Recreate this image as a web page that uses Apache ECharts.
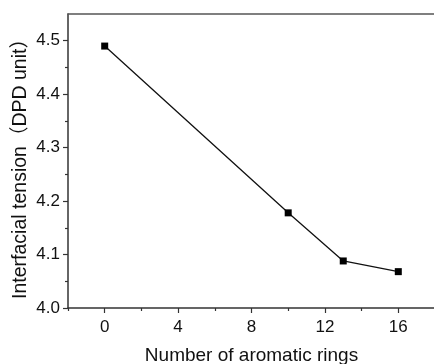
<!DOCTYPE html>
<html>
<head>
<meta charset="utf-8">
<script src="https://cdn.jsdelivr.net/npm/echarts@6/dist/echarts.min.js"></script>
<style>
  html, body { margin: 0; padding: 0; background: #fff; }
  #chart { width: 434px; height: 364px; }
</style>
</head>
<body>
<div id="chart"></div>
<script>
// data
const rings = [0, 10, 13, 16];
const tension = [4.49, 4.178, 4.088, 4.068];
const xMajor = [0, 4, 8, 12, 16];
const xMinor = [-2, 2, 6, 10, 14, 18];
const yMajor = [4.0, 4.1, 4.2, 4.3, 4.4, 4.5];
const yMinor = [4.05, 4.15, 4.25, 4.35, 4.45];

const font = "'Liberation Sans', Arial, 'Noto Sans CJK SC', sans-serif";
const lineColor = '#333';

const myChart = echarts.init(document.getElementById('chart'));

myChart.setOption({
  backgroundColor: '#fff',
  animation: false,
  grid: {
    left: 68,
    top: 14,
    right: -1,
    bottom: 56,
    containLabel: false,
    outerBoundsMode: 'none',
    show: false
  },
  xAxis: [
    {
      type: 'value',
      min: -2,
      max: 18,
      position: 'bottom',
      name: 'Number of aromatic rings',
      nameLocation: 'middle',
      nameGap: 38,
      nameTextStyle: { fontFamily: font, fontSize: 19, color: '#111' },
      axisLine: { show: true, onZero: false, lineStyle: { color: lineColor, width: 1.5 } },
      axisTick: { show: true, inside: false, length: 5, customValues: xMajor, lineStyle: { color: lineColor, width: 1.2 } },
      axisLabel: { customValues: xMajor, margin: 11, fontFamily: font, fontSize: 17, color: '#111' },
      splitLine: { show: false }
    },
    {
      type: 'value',
      min: -2,
      max: 18,
      position: 'bottom',
      axisLine: { show: false, onZero: false },
      axisTick: { show: true, inside: false, length: 3, customValues: xMinor, lineStyle: { color: lineColor, width: 1.2 } },
      axisLabel: { show: false },
      splitLine: { show: false }
    },
    {
      // top frame line only
      type: 'value',
      min: -2,
      max: 18,
      position: 'top',
      axisLine: { show: true, onZero: false, lineStyle: { color: '#555', width: 1.5 } },
      axisTick: { show: false },
      axisLabel: { show: false },
      splitLine: { show: false }
    }
  ],
  yAxis: [
    {
      type: 'value',
      min: 4.0,
      max: 4.55,
      position: 'left',
      name: 'Interfacial tension（DPD unit）',
      nameLocation: 'middle',
      nameGap: 38,
      nameMoveOverlap: false,
      nameTextStyle: { fontFamily: font, fontSize: 19.5, color: '#111', padding: [0, 6, 0, 0] },
      axisLine: { show: true, onZero: false, lineStyle: { color: lineColor, width: 1.5 } },
      axisTick: { show: true, inside: false, length: 5, customValues: yMajor, lineStyle: { color: lineColor, width: 1.2 } },
      axisLabel: {
        customValues: yMajor,
        margin: 8,
        fontFamily: font,
        fontSize: 17,
        color: '#111',
        formatter: (v) => v.toFixed(1)
      },
      splitLine: { show: false }
    },
    {
      type: 'value',
      min: 4.0,
      max: 4.55,
      position: 'left',
      axisLine: { show: false, onZero: false },
      axisTick: { show: true, inside: false, length: 3, customValues: yMinor, lineStyle: { color: lineColor, width: 1.2 } },
      axisLabel: { show: false },
      splitLine: { show: false }
    }
  ],
  series: [
    {
      type: 'line',
      xAxisIndex: 0,
      yAxisIndex: 0,
      data: rings.map((r, i) => [r, tension[i]]),
      symbol: 'rect',
      symbolSize: 7,
      itemStyle: { color: '#000' },
      lineStyle: { color: '#111', width: 1.3 }
    }
  ]
});
</script>
</body>
</html>
